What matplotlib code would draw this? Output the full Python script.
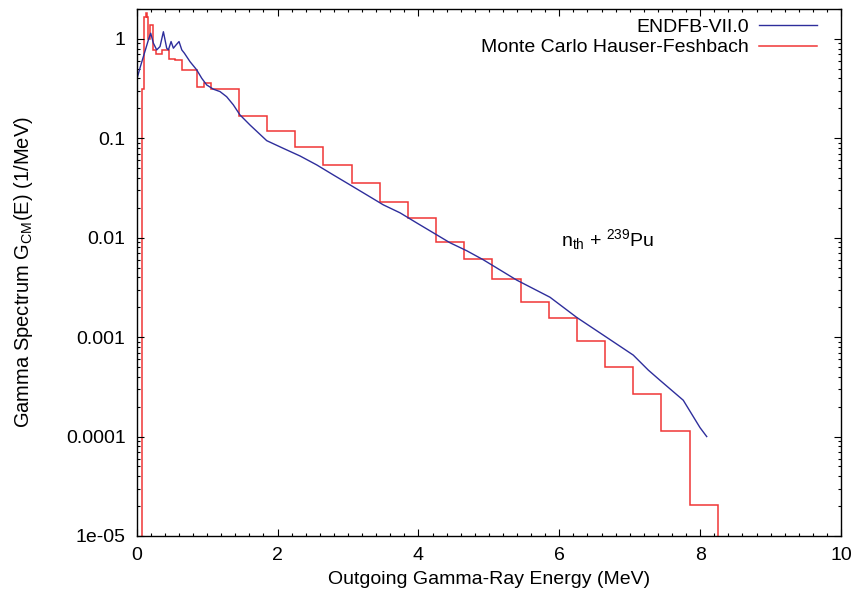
import matplotlib
matplotlib.use("Agg")
import matplotlib.pyplot as plt
from matplotlib.ticker import FixedLocator, LogLocator, NullFormatter, MultipleLocator

# ENDF/B-VII.0 spectrum
endf_e = [0, 0.05, 0.095, 0.166, 0.199, 0.237, 0.284, 0.331, 0.379, 0.426, 0.45,
          0.488, 0.521, 0.559, 0.601, 0.64, 0.677, 0.757, 0.852, 0.923, 0.994,
          1.088, 1.183, 1.277, 1.372, 1.466, 1.609, 1.846, 2.082, 2.319, 2.556,
          2.792, 3.029, 3.265, 3.502, 3.739, 3.975, 4.212, 4.448, 4.685, 4.921,
          5.395, 5.868, 6.247, 6.65, 7.05, 7.264, 7.43, 7.76, 7.998, 8.093]
endf_g = [0.387, 0.52, 0.664, 0.977, 1.14, 0.905, 0.775, 0.837, 1.18, 0.806, 0.775,
          0.94, 0.806, 0.87, 0.94, 0.775, 0.718, 0.59, 0.488, 0.402, 0.344,
          0.312, 0.295, 0.262, 0.217, 0.172, 0.136, 0.0947, 0.0792, 0.0664, 0.054,
          0.0428, 0.034, 0.027, 0.0214, 0.0178, 0.0141, 0.0112, 0.0089, 0.0074, 0.006,
          0.00375, 0.00252, 0.00158, 0.00102, 0.00066, 0.000466, 0.000368, 0.000232,
          0.000123, 0.0001]

# Monte Carlo Hauser-Feshbach histogram
mc_edges = [0.08, 0.10, 0.13, 0.14, 0.165, 0.19, 0.23, 0.28, 0.355, 0.46, 0.55,
            0.65, 0.85, 0.95, 1.05, 1.45, 1.85, 2.25, 2.65, 3.05, 3.45, 3.85,
            4.25, 4.65, 5.05, 5.45, 5.85, 6.25, 6.65, 7.05, 7.45, 7.85, 8.25]
mc_vals = [0.31, 1.66, 1.83, 1.66, 1.0, 1.38, 0.775, 0.71, 0.775, 0.634,
           0.615, 0.488, 0.326, 0.363, 0.312, 0.169, 0.1196, 0.0814, 0.0536,
           0.0353, 0.0229, 0.0157, 0.00913, 0.00608, 0.00383, 0.00226, 0.00156,
           0.000916, 0.000498, 0.00027, 0.000113, 2.05e-5]

ytick_vals = [1e-5, 1e-4, 1e-3, 1e-2, 0.1, 1]
ytick_labels = ["1e-05", "0.0001", "0.001", "0.01", "0.1", "1"]

plt.rcParams['font.family'] = ['Liberation Sans', 'DejaVu Sans']
plt.rcParams['mathtext.fontset'] = 'custom'
plt.rcParams['mathtext.rm'] = 'Liberation Sans'
plt.rcParams['mathtext.it'] = 'Liberation Sans'

fig = plt.figure(figsize=(8.56, 5.97), dpi=100)
ax = fig.add_axes([0.1597, 0.1022, 0.8228, 0.8828])

ax.plot(endf_e, endf_g, color='#2e2e9c', lw=1.0, label='ENDFB-VII.0')
ax.stairs(mc_vals, mc_edges, baseline=1e-7, color='#f03535', lw=1.1,
          label='Monte Carlo Hauser-Feshbach')

ax.set_yscale('log')
ax.set_xlim(0, 10)
ax.set_ylim(1e-5, 2)

ax.xaxis.set_major_locator(MultipleLocator(2))
ax.xaxis.set_minor_locator(MultipleLocator(0.2))
ax.yaxis.set_major_locator(FixedLocator(ytick_vals))
ax.set_yticklabels(ytick_labels)
ax.yaxis.set_minor_locator(LogLocator(base=10, subs=range(2, 10)))
ax.yaxis.set_minor_formatter(NullFormatter())

ax.tick_params(which='both', direction='in', top=True, right=True, labelsize=14)
ax.tick_params(which='major', length=5, width=0.8, pad=8)
ax.tick_params(which='minor', length=2.5, width=0.8)
for s in ax.spines.values():
    s.set_linewidth(1.0)

ax.set_xlabel('Outgoing Gamma-Ray Energy (MeV)', fontsize=14, labelpad=5)
ax.set_ylabel(r'Gamma Spectrum G$_{\mathrm{CM}}$(E) (1/MeV)', fontsize=14.5, labelpad=22)

ax.text(6.68, 0.0095, r'n$_{\mathrm{th}}$ + $^{239}$Pu', fontsize=14,
        ha='center', va='center')

ax.legend(loc='upper right', frameon=False, markerfirst=False, fontsize=14,
          handlelength=3.0, handletextpad=0.5, labelspacing=0.15,
          borderaxespad=0.3, bbox_to_anchor=(0.985, 1.008))

fig.savefig('out.png', dpi=100)
